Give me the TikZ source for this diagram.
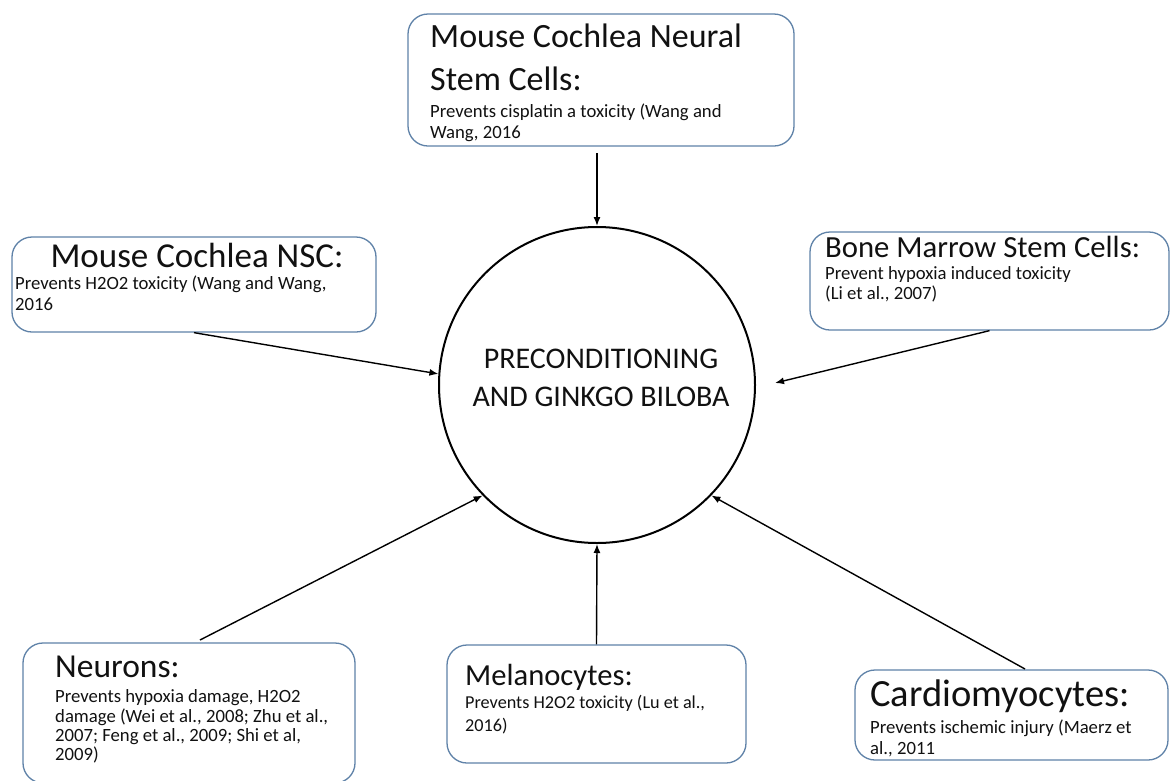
\documentclass[tikz,border=0pt]{standalone}
\usepackage{fontspec}
\setmainfont{Carlito}
\usetikzlibrary{arrows.meta}
\definecolor{boxline}{HTML}{5F82A8}
\definecolor{txt}{HTML}{111111}
\tikzset{
  box/.style={draw=boxline, line width=1.3pt, rounded corners=20pt, fill=white, inner sep=0pt},
  ttl/.style={anchor=base west, inner sep=0pt, text=txt, font=\fontsize{#1}{38}\selectfont},
  ttl/.default=33.5,
  bdy/.style={anchor=base west, inner sep=0pt, text=txt, font=\fontsize{18.7}{21}\selectfont},
  ctx/.style={anchor=base, inner sep=0pt, text=txt, font=\fontsize{30}{36}\selectfont},
  arr/.style={draw=black, line width=1.4pt, -{Latex[length=9pt,width=7pt]}}
}
\begin{document}
\begin{tikzpicture}[x=1pt,y=-1pt]
\clip (0,0) rectangle (1171,780);
\fill[white] (0,0) rectangle (1171,780);
% central circle
\node[circle, draw=black, line width=2pt, minimum size=316pt, inner sep=0pt] (c) at (597,385) {};
\node[ctx] (c1) at (601,368) {PRECONDITIONING};
\node[ctx] (c2) at (601,406) {AND GINKGO BILOBA};
% boxes
\node[box, minimum width=386pt, minimum height=132pt] (top) at (601,80) {};
\node[box, minimum width=364pt, minimum height=95pt] (nsc) at (194,284.5) {};
\node[box, minimum width=359pt, minimum height=98pt] (bone) at (989.5,281) {};
\node[box, minimum width=332pt, minimum height=140pt] (neu) at (189,713) {};
\node[box, minimum width=299pt, minimum height=118pt] (mel) at (596.5,704) {};
\node[box, minimum width=313pt, minimum height=90pt] (car) at (1011.5,715) {};
% texts: top
\node[ttl=34] (topt1) at (430,47) {Mouse Cochlea Neural};
\node[ttl=34] (topt2) at (430,90) {Stem Cells:};
\node[bdy] (topb1) at (430,117) {Prevents cisplatin a toxicity (Wang and};
\node[bdy] (topb2) at (430,138) {Wang, 2016};
% nsc
\node[ttl=35, anchor=base] (nsct) at (197,267) {Mouse Cochlea NSC:};
\node[bdy] (nscb1) at (15,289) {Prevents H2O2 toxicity (Wang and Wang,};
\node[bdy] (nscb2) at (15,310) {2016};
% bone
\node[ttl=30.7] (bonet) at (825,257) {Bone Marrow Stem Cells:};
\node[bdy] (boneb1) at (825,279) {Prevent hypoxia induced toxicity};
\node[bdy] (boneb2) at (825,299) {(Li et al., 2007)};
% neurons
\node[ttl] (neut) at (55,677) {Neurons:};
\node[bdy] (neub1) at (55,702) {Prevents hypoxia damage, H2O2};
\node[bdy] (neub2) at (55,722) {damage (Wei et al., 2008; Zhu et al.,};
\node[bdy] (neub3) at (55,741) {2007; Feng et al., 2009; Shi et al,};
\node[bdy] (neub4) at (55,760) {2009)};
% melanocytes
\node[ttl=30.6] (melt) at (465,685) {Melanocytes:};
\node[bdy, font=\fontsize{18.2}{21}\selectfont] (melb1) at (465,708) {Prevents H2O2 toxicity (Lu et al.,};
\node[bdy, font=\fontsize{18.2}{21}\selectfont] (melb2) at (465,731) {2016)};
% cardiomyocytes
\node[ttl=38.5] (cart) at (870,706) {Cardiomyocytes:};
\node[bdy] (carb1) at (870,733) {Prevents ischemic injury (Maerz et};
\node[bdy] (carb2) at (870,754) {al., 2011};
% arrow end points
\coordinate (topS) at (597,153);
\coordinate (boneE) at (775,383);
\coordinate (neuS) at (200,640);
\coordinate (carS) at (1025,669);
% connectors
\draw[arr] (topS) -- (c.90);
\draw[arr] (nsc.south) -- (c.176.4);
\draw[arr] (bone.south) -- (boneE);
\draw[arr] (neuS) -- (c.224.5);
\draw[arr] (mel.north) -- (c.270);
\draw[arr] (carS) -- (c.-44);
\end{tikzpicture}
\end{document}
